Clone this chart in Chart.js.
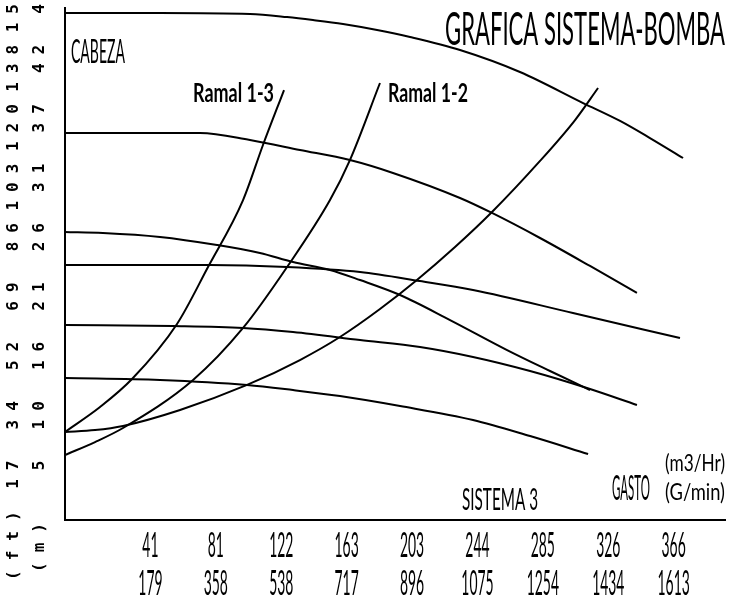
<!DOCTYPE html>
<html>
<head>
<meta charset="utf-8">
<title>Gráfica sistema-bomba</title>
<script src="https://cdn.jsdelivr.net/npm/chart.js@4.4.1/dist/chart.umd.min.js"></script>
<style>
  html, body { margin: 0; padding: 0; background: #fff; }
  #wrap { position: relative; width: 730px; height: 597px; }
</style>
</head>
<body>
<div id="wrap"><canvas id="chart"></canvas></div>
<script>
// Pump curves: flow (m3/Hr) and head (m)
const qBomba1 = [0, 59.1, 115.1, 138.2, 154.3, 173.0, 194.2, 214.7, 245.8, 283.1, 322.4, 345.4, 364.0, 384.6];
const hBomba1 = [44.75, 44.75, 44.66, 44.39, 44.13, 43.78, 43.25, 42.63, 41.48, 39.54, 36.80, 35.22, 33.71, 31.95];
const qBomba2 = [0, 84.0, 115.1, 146.2, 177.3, 204.1, 245.8, 265.7, 295.6, 326.7, 355.9];
const hBomba2 = [34.16, 34.16, 33.54, 32.66, 31.77, 30.63, 28.42, 27.10, 24.89, 22.42, 20.04];
const qBomba3 = [0, 23.6, 59.1, 94.6, 121.3, 141.9, 164.9, 183.6, 208.5, 239.6, 275.1, 301.8, 326.7];
const hBomba3 = [25.42, 25.33, 24.98, 24.27, 23.57, 22.77, 22.07, 21.18, 19.86, 17.65, 15.00, 13.15, 11.47];
const qBomba4 = [0, 90.2, 138.2, 183.6, 220.9, 253.9, 316.1, 382.7];
const hBomba4 = [22.51, 22.51, 22.33, 21.89, 21.09, 20.30, 18.27, 16.06];
const qBomba5 = [0, 67.2, 110.8, 141.9, 183.6, 220.9, 253.9, 289.4, 324.8, 355.9];
const hBomba5 = [17.21, 17.12, 16.95, 16.59, 15.89, 15.27, 14.39, 13.15, 11.65, 10.15];
const qBomba6 = [0, 59.1, 113.3, 141.9, 171.1, 208.5, 253.9, 289.4, 325.5];
const hBomba6 = [12.53, 12.36, 11.92, 11.47, 10.94, 10.06, 8.83, 7.41, 5.83];

// System curves
const qRamal13 = [0, 21.8, 41.7, 69.7, 89.0, 110.8, 123.2, 136.3];
const hRamal13 = [7.77, 9.97, 12.44, 17.30, 22.33, 28.24, 33.10, 37.95];
const qRamal12 = [0, 18.7, 36.1, 79.7, 110.8, 138.2, 164.9, 177.3, 196.0];
const hRamal12 = [5.74, 6.88, 8.12, 12.36, 16.95, 22.33, 28.24, 31.77, 38.57];
const qSistema3 = [0, 18.7, 36.1, 71.6, 113.3, 146.2, 171.1, 196.0, 219.0, 242.7, 265.7, 295.6, 317.4, 331.7];
const hSistema3 = [7.77, 7.94, 8.30, 9.71, 11.92, 14.12, 16.15, 18.62, 21.18, 24.09, 27.18, 31.69, 35.30, 38.13];

// Tick labels
const flowLabels = ['41', '81', '122', '163', '203', '244', '285', '326', '366'];          // m3/Hr
const gpmLabels = ['179', '358', '538', '717', '896', '1075', '1254', '1434', '1613'];    // G/min
const headFtLabels = ['17', '34', '52', '69', '86', '103', '120', '138', '155'];
const headMLabels = ['5', '10', '16', '21', '26', '31', '37', '42', '47'];

const FT_PER_M = 3.28084;
const FLOW_STEP = 40.7;            // m3/Hr per division (179.2 G/min)
const HEAD_STEP_FT = 17.2;         // ft per division
const HEAD_STEP_M = HEAD_STEP_FT / FT_PER_M;
const FLOW_MAX = 410.7;
const HEAD_MAX_M = 45.19;

const INK = '#000';
const AXIS_FONT = { family: "'DejaVu Sans Mono', monospace", size: 16, weight: 'bold' };
const AXIS_SPACING = 9;            // px between rotated axis characters
const TEXT_FAMILY = "Lato, 'DejaVu Sans', sans-serif";
const CAP_RATIO = 0.72;

function points(q, h) { return q.map((x, i) => ({ x, y: h[i] })); }

function curve(label, q, h) {
  return {
    label,
    data: points(q, h),
    borderColor: INK,
    borderWidth: 2,
    pointRadius: 0,
    fill: false,
    cubicInterpolationMode: 'monotone',
    xAxisID: 'x',
    yAxisID: 'yM'
  };
}

// Tall, narrow lettering squeezed to a given width
function condensedText(ctx, text, x, baseline, capHeight, width, align, weight) {
  ctx.font = `${weight || 'normal'} ${capHeight / CAP_RATIO}px ${TEXT_FAMILY}`;
  ctx.textAlign = align;
  ctx.textBaseline = 'alphabetic';
  ctx.fillText(text, x, baseline, width);
}

function headAxis(labels, step, max, weight, width, padding, showBorder) {
  return {
    type: 'linear',
    position: 'left',
    weight,
    min: 0,
    max,
    afterBuildTicks: s => { s.ticks = labels.map((_, i) => ({ value: (i + 1) * step })); },
    afterFit: s => { s.width = width; s.paddingTop = 0; s.paddingBottom = 0; },
    grid: { display: false, drawTicks: false },
    border: { display: showBorder, color: INK, width: 2 },
    ticks: {
      minRotation: 90, maxRotation: 90, autoSkip: false, crossAlign: 'near',
      padding, labelOffset: -AXIS_SPACING, z: 1, color: INK, font: AXIS_FONT,
      callback: (v, i) => labels[i]
    }
  };
}

const lettering = {
  id: 'lettering',
  afterDatasetsDraw(chart) {
    chart.ctx.letterSpacing = AXIS_SPACING + 'px';
  },
  afterDraw(chart) {
    const ctx = chart.ctx;
    ctx.letterSpacing = '0px';
    ctx.save();
    ctx.fillStyle = INK;

    // Flow scale labels, two rows (m3/Hr over G/min)
    const xs = chart.scales.x;
    const shift = xs.options.ticks.labelOffset;
    xs.ticks.forEach((t, i) => {
      const px = xs.getPixelForValue(t.value) + shift;
      ctx.font = `normal ${25 / CAP_RATIO}px ${TEXT_FAMILY}`;
      const w1 = ctx.measureText(flowLabels[i]).width * 0.4;
      const w2 = ctx.measureText(gpmLabels[i]).width * 0.4;
      condensedText(ctx, flowLabels[i], px, 557, 25, w1, 'center');
      condensedText(ctx, gpmLabels[i], px, 595, 25, w2, 'center');
    });

    condensedText(ctx, 'GRAFICA SISTEMA-BOMBA', 725, 45, 34, 280, 'right');
    condensedText(ctx, 'CABEZA', 71, 63, 24, 54, 'left');
    condensedText(ctx, 'SISTEMA 3', 462, 510, 22, 76, 'left');
    condensedText(ctx, 'GASTO', 650, 500, 25, 38, 'right');
    condensedText(ctx, '(m3/Hr)', 725, 471, 17, 60, 'right');
    condensedText(ctx, '(G/min)', 725, 500, 17, 60, 'right');

    // Branch names beside the top end of their curves
    const ys = chart.scales.yM;
    const end13 = { x: xs.getPixelForValue(qRamal13[qRamal13.length - 1]), y: ys.getPixelForValue(hRamal13[hRamal13.length - 1]) };
    const end12 = { x: xs.getPixelForValue(qRamal12[qRamal12.length - 1]), y: ys.getPixelForValue(hRamal12[hRamal12.length - 1]) };
    condensedText(ctx, 'Ramal 1-3', end13.x - 10, end13.y + 12, 19, 81, 'right', 'bold');
    condensedText(ctx, 'Ramal 1-2', end12.x + 8, end12.y + 19, 19, 80, 'left', 'bold');

    // Unit tags under the two head columns
    ctx.font = `${AXIS_FONT.weight} ${AXIS_FONT.size}px ${AXIS_FONT.family}`;
    ctx.letterSpacing = '10px';
    ctx.textAlign = 'left';
    ctx.textBaseline = 'middle';
    [['(ft)', 14, 580], ['(m)', 40, 572]].forEach(([t, x, y]) => {
      ctx.save();
      ctx.translate(x, y);
      ctx.rotate(-Math.PI / 2);
      ctx.fillText(t, 0, 0);
      ctx.restore();
    });
    ctx.letterSpacing = '0px';
    ctx.restore();
  }
};

new Chart(document.getElementById('chart'), {
  type: 'line',
  data: {
    datasets: [
      curve('Bomba 1', qBomba1, hBomba1),
      curve('Bomba 2', qBomba2, hBomba2),
      curve('Bomba 3', qBomba3, hBomba3),
      curve('Bomba 4', qBomba4, hBomba4),
      curve('Bomba 5', qBomba5, hBomba5),
      curve('Bomba 6', qBomba6, hBomba6),
      curve('Ramal 1-3', qRamal13, hRamal13),
      curve('Ramal 1-2', qRamal12, hRamal12),
      curve('Sistema 3', qSistema3, hSistema3)
    ]
  },
  options: {
    responsive: true,
    maintainAspectRatio: false,
    animation: false,
    events: [],
    layout: { padding: { top: 8, right: 5, bottom: 0, left: 0 } },
    plugins: { legend: { display: false }, tooltip: { enabled: false }, title: { display: false } },
    scales: {
      x: {
        type: 'linear',
        position: 'bottom',
        min: 0,
        max: FLOW_MAX,
        afterBuildTicks: s => { s.ticks = flowLabels.map((_, i) => ({ value: (i + 1) * FLOW_STEP })); },
        afterFit: s => { s.height = 77; s.paddingLeft = 0; s.paddingRight = 0; },
        grid: { display: false, drawTicks: false },
        border: { display: true, color: INK, width: 2 },
        ticks: { display: false, labelOffset: 20 }
      },
      yM: headAxis(headMLabels, HEAD_STEP_M, HEAD_MAX_M, 0, 37, 25, true),
      yFt: headAxis(headFtLabels, HEAD_STEP_FT, HEAD_MAX_M * FT_PER_M, 1, 28, 14, false)
    }
  },
  plugins: [lettering]
});
</script>
</body>
</html>
